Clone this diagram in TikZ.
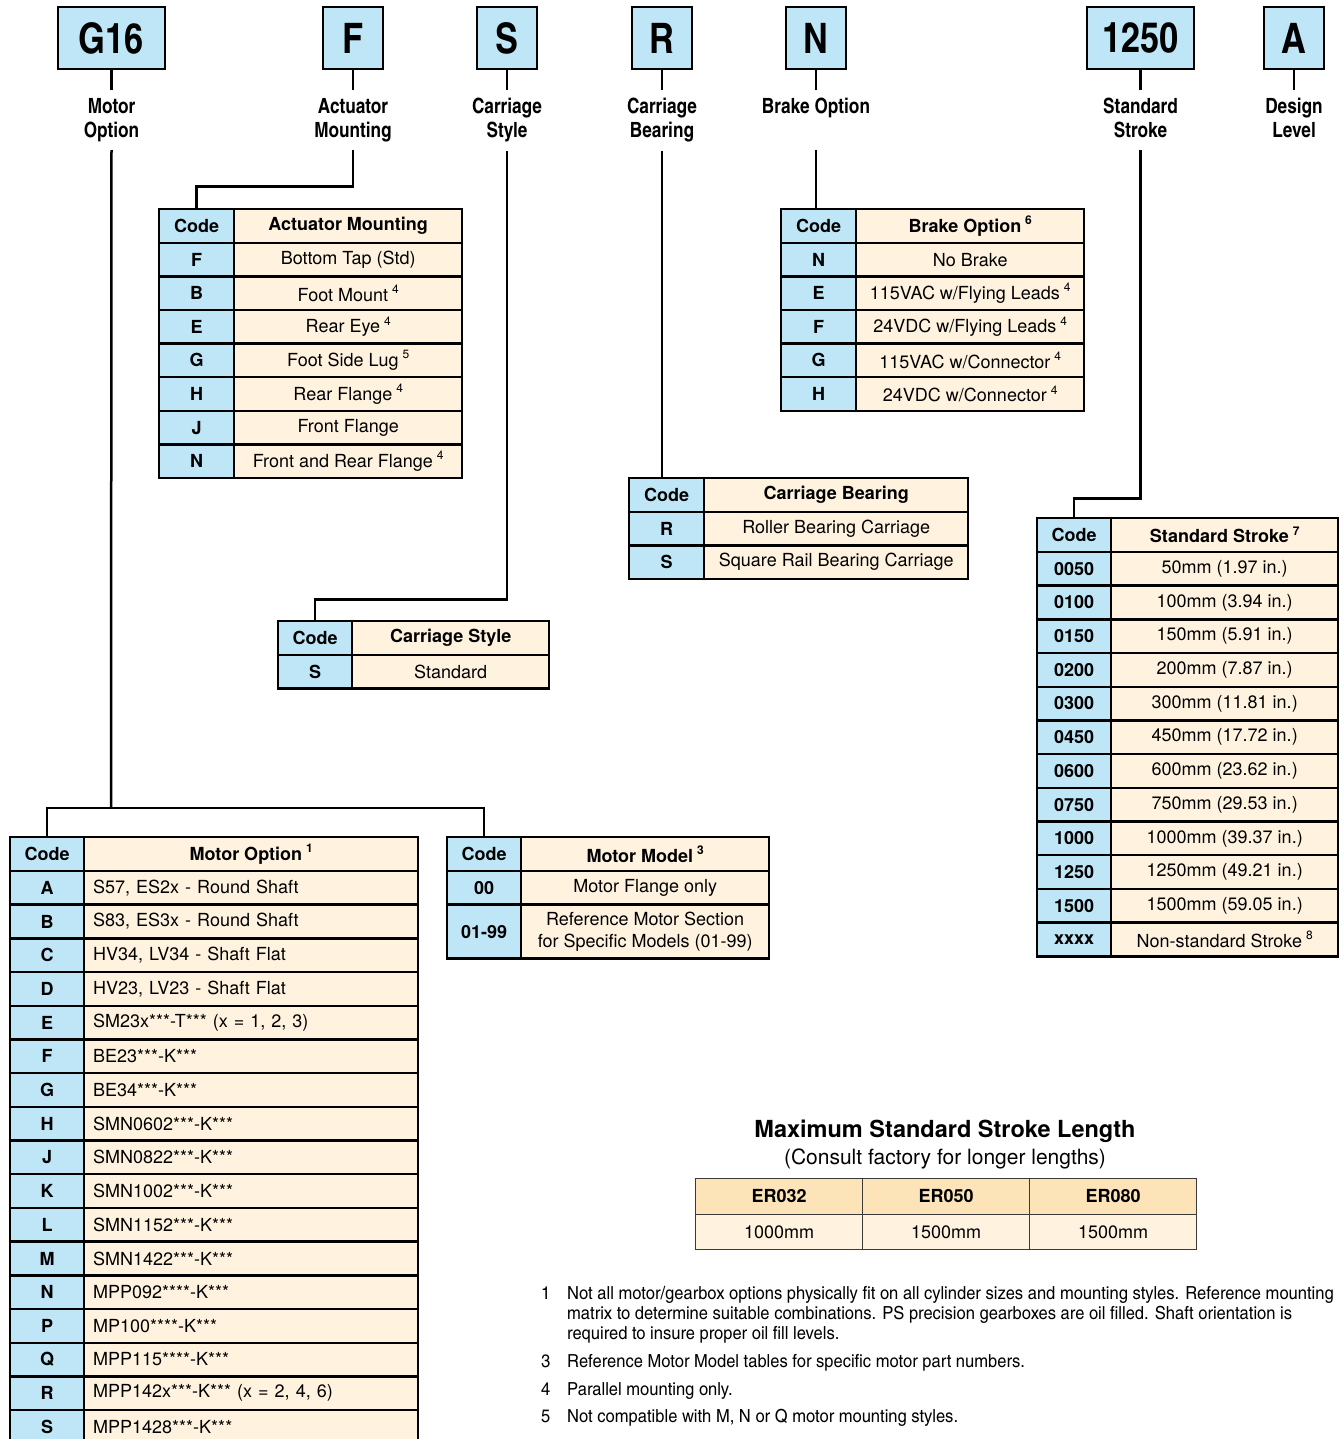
\documentclass[tikz,border=0pt]{standalone}
\usepackage{fontspec}
\setmainfont{TeX Gyre Heros}
\newfontfamily\condfont{texgyreheroscn}[Extension=.otf, UprightFont=*-regular, BoldFont=*-bold]
\newfontfamily\notefont{texgyreheroscn}[Extension=.otf, UprightFont=*-regular, BoldFont=*-bold, FakeStretch=1.12]
\usepackage{xcolor}
\usetikzlibrary{positioning,calc}
\definecolor{codeblue}{HTML}{BEE6F6}
\definecolor{rowcream}{HTML}{FFF3DF}
\definecolor{headtan}{HTML}{FCE4B8}
\definecolor{gridgray}{HTML}{3A3A3A}

\newcommand\supnum[1]{\hspace{0.22em}\raisebox{0.42em}{\fontsize{12}{12}\selectfont #1}}
\newcommand\tabfont{\fontsize{18}{21}\selectfont}

\begin{document}
\begin{tikzpicture}[
    x=1pt, y=-1pt,
    node distance=20pt,
    keybox/.style={
      draw,
      line width=2.5pt,
      fill=codeblue,
      minimum height=62,
      inner sep=0pt,
      font=\condfont\bfseries\fontsize{42}{42}\selectfont
    },
    keylabel/.style={
      align=center,
      inner xsep=0pt,
      inner ysep=8pt,
      font=\condfont\bfseries\fontsize{21}{24}\selectfont,
      execute at end node=\vphantom{p}
    },
    wire/.style={line width=2.5pt},
    cell/.style={
      draw,
      line width=2.4pt,
      minimum height=33.6,
      inner sep=0pt,
      anchor=north west,
      font=\tabfont
    },
    codecell/.style={cell, fill=codeblue, font=\tabfont\bfseries},
    desccell/.style={cell, fill=rowcream},
    deschead/.style={desccell, font=\tabfont\bfseries},
    motorcell/.style={desccell, text width=316, align=left, inner xsep=9pt},
    lencell/.style={
      draw=gridgray,
      line width=1.4pt,
      minimum width=167,
      minimum height=35.5,
      inner sep=0pt,
      anchor=north west,
      font=\tabfont
    },
    footnote/.style={anchor=base west, inner sep=0pt, font=\notefont\fontsize{18}{20}\selectfont}
  ]

  \useasboundingbox (0,0) rectangle (1342,1439);

  % part number key
  \node[keybox, minimum width=107] (g16) at (111.5,38) {G16};
  \node[keybox, minimum width=60] (f) at (353,38) {F};
  \node[keybox, minimum width=60] (s) at (507,38) {S};
  \node[keybox, minimum width=60] (r) at (662,38) {R};
  \node[keybox, minimum width=60] (n) at (816,38) {N};
  \node[keybox, minimum width=107] (k1250) at (1140.5,38) {1250};
  \node[keybox, minimum width=60] (a) at (1294,38) {A};

  \node[keylabel, below=of g16] (mo-lbl) {Motor\\Option};
  \node[keylabel, below=of f] (am-lbl) {Actuator\\Mounting};
  \node[keylabel, below=of s] (cs-lbl) {Carriage\\Style};
  \node[keylabel, below=of r] (cb-lbl) {Carriage\\Bearing};
  \node[keylabel, below=of n] (bo-lbl) {Brake Option\\};
  \node[keylabel, below=of k1250] (ss-lbl) {Standard\\Stroke};
  \node[keylabel, below=of a] (dl-lbl) {Design\\Level};

  \foreach \k/\l in {g16/mo, f/am, s/cs, r/cb, n/bo, k1250/ss, a/dl}
    \draw[wire] (\k) -- (\l-lbl);

  % actuator mounting
  \node[codecell, minimum width=75] (am-h0) at (158,208) {Code};
  \node[deschead, minimum width=228] (am-h1) at (233,208) {Actuator Mounting};
  \foreach \c/\d [count=\i] in {F/{Bottom Tap (Std)}, B/{Foot Mount\supnum{4}}, E/{Rear Eye\supnum{4}},
      G/{Foot Side Lug\supnum{5}}, H/{Rear Flange\supnum{4}}, J/{Front Flange}, N/{Front and Rear Flange\supnum{4}}} {
    \node[codecell, minimum width=75] (am-c\i) at (158,{208+\i*33.6}) {\c};
    \node[desccell, minimum width=228] (am-d\i) at (233,{208+\i*33.6}) {\d};
  }

  % brake option
  \node[codecell, minimum width=75] (bo-h0) at (780,208) {Code};
  \node[deschead, minimum width=228] (bo-h1) at (855,208) {Brake Option\supnum{6}};
  \foreach \c/\d [count=\i] in {N/{No Brake}, E/{115VAC w/Flying Leads\supnum{4}}, F/{24VDC w/Flying Leads\supnum{4}},
      G/{115VAC w/Connector\supnum{4}}, H/{24VDC w/Connector\supnum{4}}} {
    \node[codecell, minimum width=75] (bo-c\i) at (780,{208+\i*33.6}) {\c};
    \node[desccell, minimum width=228] (bo-d\i) at (855,{208+\i*33.6}) {\d};
  }

  % carriage bearing
  \node[codecell, minimum width=75] (cb-h0) at (628,477) {Code};
  \node[deschead, minimum width=264] (cb-h1) at (703,477) {Carriage Bearing};
  \foreach \c/\d [count=\i] in {R/{Roller Bearing Carriage}, S/{Square Rail Bearing Carriage}} {
    \node[codecell, minimum width=75] (cb-c\i) at (628,{477+\i*33.6}) {\c};
    \node[desccell, minimum width=264] (cb-d\i) at (703,{477+\i*33.6}) {\d};
  }

  % carriage style
  \node[codecell, minimum width=74] (cs-h0) at (277,620) {Code};
  \node[deschead, minimum width=197] (cs-h1) at (351,620) {Carriage Style};
  \node[codecell, minimum width=74] (cs-c1) at (277,653.6) {S};
  \node[desccell, minimum width=197] (cs-d1) at (351,653.6) {Standard};

  % standard stroke
  \node[codecell, minimum width=74, minimum height=33.7] (ss-h0) at (1036,517) {Code};
  \node[deschead, minimum width=227, minimum height=33.7] (ss-h1) at (1110,517) {Standard Stroke\supnum{7}};
  \foreach \c/\d [count=\i] in {0050/{50mm (1.97 in.)}, 0100/{100mm (3.94 in.)}, 0150/{150mm (5.91 in.)},
      0200/{200mm (7.87 in.)}, 0300/{300mm (11.81 in.)}, 0450/{450mm (17.72 in.)}, 0600/{600mm (23.62 in.)},
      0750/{750mm (29.53 in.)}, 1000/{1000mm (39.37 in.)}, 1250/{1250mm (49.21 in.)}, 1500/{1500mm (59.05 in.)},
      xxxx/{Non-standard Stroke\supnum{8}}} {
    \node[codecell, minimum width=74, minimum height=33.7] (ss-c\i) at (1036,{517+\i*33.7}) {\c};
    \node[desccell, minimum width=227, minimum height=33.7] (ss-d\i) at (1110,{517+\i*33.7}) {\d};
  }

  % motor option
  \node[codecell, minimum width=74, minimum height=33.7] (mop-h0) at (9,836) {Code};
  \node[deschead, minimum width=334, minimum height=33.7] (mop-h1) at (83,836) {Motor Option\supnum{1}};
  \foreach \c/\d [count=\i] in {A/{S57, ES2x - Round Shaft}, B/{S83, ES3x - Round Shaft},
      C/{HV34, LV34 - Shaft Flat}, D/{HV23, LV23 - Shaft Flat}, E/{SM23x***-T*** (x = 1, 2, 3)},
      F/{BE23***-K***}, G/{BE34***-K***}, H/{SMN0602***-K***}, J/{SMN0822***-K***},
      K/{SMN1002***-K***}, L/{SMN1152***-K***}, M/{SMN1422***-K***}, N/{MPP092****-K***},
      P/{MP100****-K***}, Q/{MPP115****-K***}, R/{MPP142x***-K*** (x = 2, 4, 6)}, S/{MPP1428***-K***}} {
    \node[codecell, minimum width=74, minimum height=33.7] (mop-c\i) at (9,{836+\i*33.7}) {\c};
    \node[motorcell, minimum height=33.7] (mop-d\i) at (83,{836+\i*33.7}) {\d};
  }

  % motor model
  \node[codecell, minimum width=74, minimum height=33.7] (mmd-h0) at (446,836) {Code};
  \node[deschead, minimum width=248, minimum height=33.7] (mmd-h1) at (520,836) {Motor Model\supnum{3}};
  \node[codecell, minimum width=74, minimum height=33.7] (mmd-c1) at (446,869.7) {00};
  \node[desccell, minimum width=248, minimum height=33.7] (mmd-d1) at (520,869.7) {Motor Flange only};
  \node[codecell, minimum width=74, minimum height=54] (mmd-c2) at (446,903.4) {01-99};
  \node[desccell, minimum width=248, minimum height=54, align=center,
    font=\fontsize{18}{22}\selectfont] (mmd-d2) at (520,903.4) {Reference Motor Section\\for Specific Models (01-99)};

  % connectors to the tables
  \coordinate (mo-joint) at (111,808);
  \draw[wire] (mo-lbl.south) -- (mo-joint);
  \draw[wire] (mop-h0.north) |- (mo-joint) -| (mmd-h0.north);
  \draw[wire] (am-lbl.south) -- ++(0,36) -| (am-h0.north);
  \draw[wire] (cs-lbl.south) -- ++(0,449) -| (cs-h0.north);
  \draw[wire] (cb-lbl.south) -- (cb-lbl.south |- cb-h0.north);
  \draw[wire] (bo-lbl.south) -- (bo-lbl.south |- bo-h0.north);
  \draw[wire] (ss-lbl.south) -- ++(0,348) -| (ss-h0.north);

  % maximum stroke length
  \node[font=\bfseries\fontsize{23.5}{26}\selectfont] (msl-title) at (945,1131) {Maximum Standard Stroke Length};
  \node[font=\fontsize{21}{24}\selectfont] (msl-sub) at (945,1159) {(Consult factory for longer lengths)};
  \foreach \m/\v [count=\i] in {ER032/1000mm, ER050/1500mm, ER080/1500mm} {
    \node[lencell, fill=headtan, font=\tabfont\bfseries] (msl-h\i) at ({695+(\i-1)*167},1178) {\m};
    \node[lencell, fill=rowcream] (msl-v\i) at ({695+(\i-1)*167},1213.5) {\v};
  }

  % footnotes
  \node[footnote] (fn1) at (541,1299) {\makebox[26pt][l]{1}\parbox[t]{800pt}{\raggedright
    Not all motor/gearbox options physically fit on all cylinder sizes and mounting styles. Reference mounting\\
    matrix to determine suitable combinations. PS precision gearboxes are oil filled. Shaft orientation is\\
    required to insure proper oil fill levels.}};
  \node[footnote] (fn3) at (541,1367) {\makebox[26pt][l]{3}Reference Motor Model tables for specific motor part numbers.};
  \node[footnote] (fn4) at (541,1395) {\makebox[26pt][l]{4}Parallel mounting only.};
  \node[footnote] (fn5) at (541,1422) {\makebox[26pt][l]{5}Not compatible with M, N or Q motor mounting styles.};

\end{tikzpicture}
\end{document}
